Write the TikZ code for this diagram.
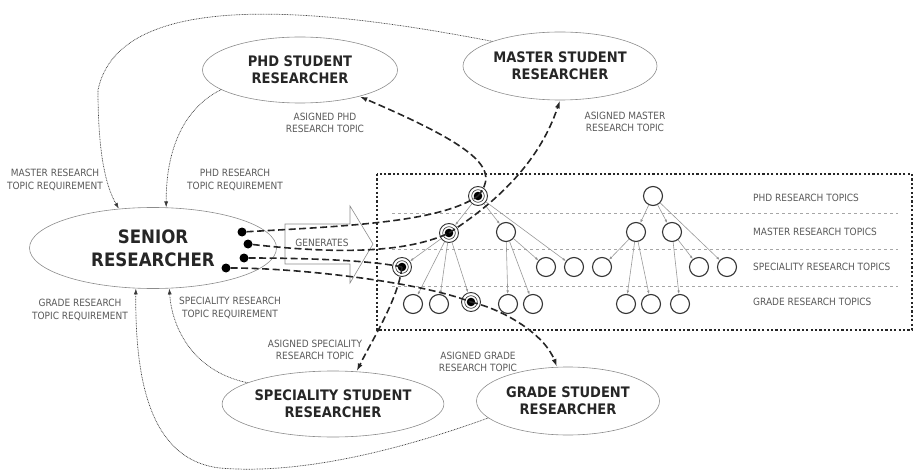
\documentclass[tikz,border=0pt]{standalone}
\usepackage{fontspec}
\setmainfont{DejaVu Sans Condensed}
\usetikzlibrary{arrows.meta,shapes.geometric}

\tikzset{
  student/.style={ellipse, draw=black!45, line width=0.6pt, align=center, inner sep=0pt,
    text=black!85, font=\bfseries\fontsize{14.5}{17}\selectfont},
  topic/.style={circle, draw=black!80, line width=1.1pt, fill=white, minimum size=19pt, inner sep=0pt},
  chosen/.style={topic, line width=0.9pt,
    path picture={\draw[black!80, line width=0.6pt] (path picture bounding box.center) circle (6.3pt);
                  \fill[black] (path picture bounding box.center) circle (4.3pt);}},
  origin/.style={circle, fill=black, minimum size=9pt, inner sep=0pt},
  link/.style={draw=black!40, line width=0.6pt, -{Latex[length=3.5pt,width=2.5pt,fill=black!80]}},
  req/.style={draw=black!75, line width=0.7pt, dash pattern=on 0.8pt off 0.8pt,
    -{Latex[length=6pt,width=4pt,fill=black!80]}},
  asg/.style={draw=black!85, line width=1.6pt, dash pattern=on 7pt off 3.5pt},
  asgto/.style={asg, -{Latex[length=8pt,width=5pt]}},
  frame/.style={draw=black!85, line width=2.2pt, dash pattern=on 2.2pt off 2.2pt},
  sep/.style={draw=black!35, line width=0.8pt, dash pattern=on 3pt off 3pt},
  lbl/.style={align=center, text=black!65, font=\fontsize{10}{12.5}\selectfont, inner sep=0pt},
  rowlbl/.style={anchor=west, text=black!65, font=\fontsize{10}{12.5}\selectfont, inner sep=0pt}
}

\begin{document}
\begin{tikzpicture}[x=1pt,y=-1pt]
\useasboundingbox (0,0) rectangle (915,473);

% researchers
\node[student, minimum width=247pt, minimum height=81pt, font=\bfseries\fontsize{18.5}{23}\selectfont]
  (sr) at (153,248) {SENIOR\\RESEARCHER};
\node[student, minimum width=195pt, minimum height=66pt] (phd) at (300,70) {PHD STUDENT\\RESEARCHER};
\node[student, minimum width=194pt, minimum height=68pt] (mst) at (560,66) {MASTER STUDENT\\RESEARCHER};
\node[student, minimum width=213pt, minimum height=66pt] (spc) at (333,404) {SPECIALITY STUDENT\\RESEARCHER};
\node[student, minimum width=183pt, minimum height=68pt] (grd) at (568,401) {GRADE STUDENT\\RESEARCHER};

% topic levels
\draw[frame] (377,174) rectangle (912,330);
\foreach \y in {213,249,286}
  \draw[sep] (392,\y) -- (898,\y);
\node[rowlbl] (lphd) at (753,198) {PHD RESEARCH TOPICS};
\node[rowlbl] (lmst) at (753,232) {MASTER RESEARCH TOPICS};
\node[rowlbl] (lspc) at (753,267) {SPECIALITY RESEARCH TOPICS};
\node[rowlbl] (lgrd) at (753,302) {GRADE RESEARCH TOPICS};

\node[chosen] (p1) at (478,196) {};
\node[topic] (p2) at (653,196) {};
\node[chosen] (m1) at (449,233) {};
\node[topic] (m2) at (506,232) {};
\node[topic] (m3) at (636,232) {};
\node[topic] (m4) at (672,232) {};
\node[chosen] (s1) at (402,267) {};
\node[topic] (s2) at (546,267) {};
\node[topic] (s3) at (574,267) {};
\node[topic] (s4) at (602,267) {};
\node[topic] (s5) at (699,267) {};
\node[topic] (s6) at (727,267) {};
\node[topic] (g1) at (413,304) {};
\node[topic] (g2) at (439,304) {};
\node[chosen] (g3) at (471,302) {};
\node[topic] (g4) at (508,304) {};
\node[topic] (g5) at (533,304) {};
\node[topic] (g6) at (626,304) {};
\node[topic] (g7) at (651,304) {};
\node[topic] (g8) at (680,304) {};

\foreach \a/\b in {p1/m1,p1/m2,p1/s3,m1/s1,m1/g1,m1/g2,m1/g3,m2/s2,m2/g4,m2/g5,
                   p2/m3,p2/m4,p2/s6,m3/s4,m3/g6,m3/g7,m4/s5,m4/g8}
  \draw[link] (\a) -- (\b);

% generates
\draw[draw=black!45, line width=0.6pt] (285,224) -- (350,224) -- (350,206) -- (373,244)
  -- (350,283) -- (350,264) -- (285,264) -- cycle;
\node[lbl] (gen) at (322,243) {GENERATES};

% assignment
\node[origin] (d1) at (242,232) {};
\node[origin] (d2) at (248,244) {};
\node[origin] (d3) at (244,258) {};
\node[origin] (d4) at (226,268) {};

\draw[asg] (d1) .. controls (350,226) and (440,222) .. (p1.center);
\draw[asgto] (p1.center) .. controls (500,170) and (480,148) .. (phd.-24);
\draw[asg] (d2) .. controls (320,252) and (400,256) .. (m1.center);
\draw[asgto] (m1.center) .. controls (500,200) and (540,160) .. (mst.south);
\draw[asg] (d3) .. controls (300,258) and (370,260) .. (s1.center);
\draw[asgto] (s1.center) .. controls (398,300) and (372,340) .. (spc.54);
\draw[asg] (d4) .. controls (300,268) and (420,282) .. (g3.center);
\draw[asgto] (g3.center) .. controls (505,310) and (545,335) .. (grd.108);

% requirements
\draw[req] (mst.160) .. controls (330,10) and (120,-15) .. (98,90)
  .. controls (98,150) and (105,185) .. (sr.131);
\draw[req] (phd.194) .. controls (190,105) and (166,140) .. (sr.72);
\draw[req] (spc.166) .. controls (195,372) and (172,330) .. (sr.-68);
\draw[req] (grd.192) .. controls (400,450) and (300,475) .. (220,468)
  .. controls (150,460) and (135,380) .. (sr.247);

\node[lbl] (lmreq) at (55,180) {MASTER RESEARCH\\TOPIC REQUIREMENT};
\node[lbl] (lpreq) at (235,180) {PHD RESEARCH\\TOPIC REQUIREMENT};
\node[lbl] (lpasg) at (325,123) {ASIGNED PHD\\RESEARCH TOPIC};
\node[lbl] (lmasg) at (625,122) {ASIGNED MASTER\\RESEARCH TOPIC};
\node[lbl] (lgreq) at (80,310) {GRADE RESEARCH\\TOPIC REQUIREMENT};
\node[lbl] (lsreq) at (230,308) {SPECIALITY RESEARCH\\TOPIC REQUIREMENT};
\node[lbl] (lsasg) at (315,350) {ASIGNED SPECIALITY\\RESEARCH TOPIC};
\node[lbl] (lgasg) at (478,362) {ASIGNED GRADE\\RESEARCH TOPIC};
\end{tikzpicture}
\end{document}
